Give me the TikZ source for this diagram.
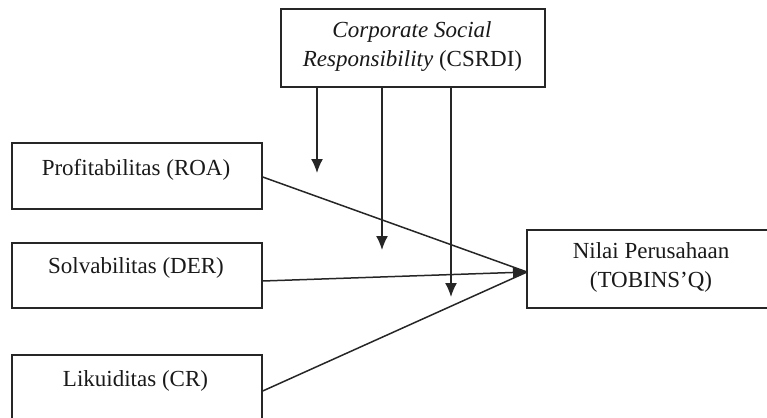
\documentclass[tikz,border=0pt]{standalone}
\usepackage{fontspec}
\setmainfont{Liberation Serif}
\usetikzlibrary{arrows.meta}
\begin{document}
\begin{tikzpicture}[x=1pt,y=-1pt,
 box/.style={draw=black!85, line width=1.4pt, rectangle, inner sep=0pt},
 txt/.style={font=\fontsize{23}{28}\selectfont, anchor=base, inner sep=0pt, text=black!90},
 line/.style={draw=black!85, line width=1.5pt},
 conn/.style={line, -{Latex[length=14pt,width=12pt]}}]
\useasboundingbox (0,0) rectangle (767,417);
\clip (0,0) rectangle (767,417);
% boxes
\node[box, minimum width=264pt, minimum height=78pt] (csr) at (413,48) {};
\node[box, minimum width=250pt, minimum height=66pt] (roa) at (137,176) {};
\node[box, minimum width=250pt, minimum height=65pt] (der) at (137,275.5) {};
\node[box, minimum width=250pt, minimum height=66pt] (cr) at (137,388) {};
\node[box, minimum width=250pt, minimum height=78pt] (tq) at (652,269) {};
% texts
\node[txt] (csr1) at (412,37.5) {\textit{Corporate Social}};
\node[txt] (csr2) at (412.5,67) {\textit{Responsibility} (CSRDI)};
\node[txt] (roat) at (136,175) {Profitabilitas (ROA)};
\node[txt] (dert) at (136,273) {Solvabilitas (DER)};
\node[txt] (crt) at (135.5,386) {Likuiditas (CR)};
\node[txt] (tq1) at (651,258) {Nilai Perusahaan};
\node[txt] (tq2) at (651,287) {(TOBINS’Q)};
% connectors
\coordinate (tip) at (527,272);
\draw[line] ([yshift=-1pt]roa.east) -- (tip);
\draw[line] ([yshift=-3pt]cr.east) -- (tip);
\draw[conn] ([yshift=-5.5pt]der.east) -- (tip);
\coordinate (m1) at (317,173);
\coordinate (m2) at (382,250);
\coordinate (m3) at (451,297);
\draw[conn] ([xshift=-96pt]csr.south) -- (m1);
\draw[conn] ([xshift=-31pt]csr.south) -- (m2);
\draw[conn] ([xshift=38pt]csr.south) -- (m3);
\end{tikzpicture}
\end{document}
